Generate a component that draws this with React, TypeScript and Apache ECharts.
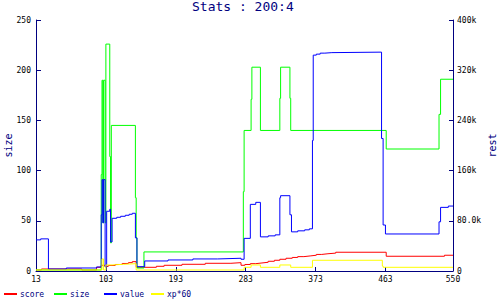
import React, { useEffect, useRef } from "react";
import * as echarts from "echarts";

// x ticks
const xTicks = [13, 103, 193, 283, 373, 463, 550];

// score (right axis, thousands)
const scoreX = [13, 20, 72, 91, 97, 102, 106, 115, 124, 132, 137, 142, 168, 178, 201, 231, 264, 277, 282, 289, 296, 304, 312, 320, 327, 335, 343, 350, 358, 366, 374, 381, 389, 399, 464, 539, 550];
const scoreY = [1.6, 3.2, 1.6, 5.9, 9.1, 7.2, 8.8, 10.4, 12, 13.3, 14.9, 5.9, 7.5, 9.1, 10.7, 12.3, 13.3, 9.1, 10.4, 11.7, 12.8, 13.9, 15.5, 17.1, 18.7, 20.3, 21.6, 22.9, 24, 25.1, 26.4, 27.5, 28.5, 29.9, 23.5, 25.1, 25.1];

// size (left axis)
const sizeX = [13, 97, 98, 99, 100, 102, 103, 108, 109, 110, 141, 142, 143, 152, 280, 281, 290, 291, 302, 327, 328, 340, 341, 464, 532, 534, 550];
const sizeY = [1, 96, 190, 48, 190, 48, 226, 114, 28, 145, 73, 33, 3, 19, 79, 140, 171, 203, 140, 172, 203, 172, 140, 121.5, 156, 191, 191];

// value (right axis, thousands)
const valueX = [13, 19, 29, 52, 91, 97, 98, 99, 100, 102, 104, 108, 109, 111, 117, 122, 128, 133, 137, 141, 143, 153, 183, 215, 247, 277, 281, 289, 296, 302, 312, 321, 327, 328, 340, 342, 350, 359, 365, 369, 370, 374, 379, 385, 394, 458, 460, 463, 532, 534, 544, 550];
const valueY = [49.6, 51.2, 3.2, 4.8, 6.4, 89.6, 145.6, 76.8, 145.6, 6.4, 95.2, 98.4, 46.4, 84, 85.6, 87.2, 88.8, 90.4, 92, 52.8, 6.9, 16, 17.6, 19.2, 20.3, 18.7, 52, 106.2, 109.4, 54.4, 56, 57.6, 116.8, 120, 89.6, 62.4, 64, 65.6, 67.2, 208, 344, 345.6, 347.2, 348, 348.8, 211.2, 73.3, 59, 78.4, 101.4, 103.5, 103.5];

// xp*60 (right axis, thousands)
const xpX = [13, 98, 100, 103, 111, 126, 142, 281, 290, 302, 327, 341, 369, 459, 460, 550];
const xpY = [1.6, 19.2, 1.6, 9.6, 10.7, 11.7, 1.6, 5.9, 9.6, 5.9, 9.6, 5.9, 17.1, 8, 5.9, 5.9];

const NAVY = "#000080";
const MONO = "DejaVu Sans Mono";

function pairs(xs: number[], ys: number[]) {
  return xs.map((x, i) => [x, ys[i]]);
}

export default function App() {
  const ref = useRef<HTMLDivElement>(null);
  useEffect(() => {
    document.body.style.margin = "0";
    const chart = echarts.init(ref.current!, null, { renderer: "svg" });
    const legendItem = (name: string, left: number) => ({
      data: [name],
      left,
      top: 290,
      padding: 0,
      itemWidth: 13,
      itemHeight: 2,
      itemGap: 0,
      icon: "rect",
      selectedMode: false,
      textStyle: { color: NAVY, fontFamily: MONO, fontSize: 8, padding: [0, 0, 0, -2] },
    });
    const mk = (name: string, color: string, data: number[][], yAxisIndex: number) => ({
      name,
      type: "line",
      step: "end",
      yAxisIndex,
      data,
      showSymbol: false,
      symbol: "none",
      color,
      lineStyle: { color, width: 1 },
      itemStyle: { color },
    });
    chart.setOption({
      animation: false,
      title: {
        text: "Stats : 200:4",
        left: 192,
        top: 0,
        padding: 0,
        textStyle: { color: NAVY, fontFamily: MONO, fontSize: 13, fontWeight: "normal" },
      },
      legend: [
        legendItem("score", 4),
        legendItem("size", 54),
        legendItem("value", 104),
        legendItem("xp*60", 151),
      ],
      grid: { left: 36, right: 47, top: 20, bottom: 29, containLabel: false, outerBoundsMode: "none" },
      xAxis: {
        type: "value",
        min: 13,
        max: 550,
        axisLine: { show: true, lineStyle: { color: NAVY, width: 1 } },
        axisTick: { show: true, inside: true, length: 4, customValues: xTicks, lineStyle: { color: NAVY } },
        axisLabel: {
          customValues: xTicks,
          color: "#000",
          fontFamily: MONO,
          fontSize: 8,
          margin: 4,
          showMinLabel: true,
          showMaxLabel: true,
        },
        splitLine: { show: false },
      },
      yAxis: [
        {
          type: "value",
          position: "left",
          min: 0,
          max: 250,
          interval: 50,
          name: "size",
          nameLocation: "middle",
          nameGap: 23,
          nameMoveOverlap: false,
          nameTextStyle: { color: NAVY, fontFamily: MONO, fontSize: 10 },
          axisLine: { show: true, lineStyle: { color: NAVY, width: 1 } },
          axisTick: { show: true, inside: true, length: 5, lineStyle: { color: NAVY } },
          axisLabel: { color: "#000", fontFamily: MONO, fontSize: 8, margin: 5 },
          splitLine: { show: false },
        },
        {
          type: "value",
          position: "right",
          min: 0,
          max: 400,
          interval: 80,
          name: "rest",
          nameLocation: "middle",
          nameGap: 34,
          nameMoveOverlap: false,
          nameTextStyle: { color: NAVY, fontFamily: MONO, fontSize: 10 },
          axisLine: { show: true, lineStyle: { color: NAVY, width: 1 } },
          axisTick: { show: true, inside: true, length: 4, lineStyle: { color: NAVY } },
          axisLabel: {
            color: "#000",
            fontFamily: MONO,
            fontSize: 8,
            margin: 4,
            formatter: (v: number) => (v === 0 ? "0" : v < 100 ? v.toFixed(1) + "k" : v + "k"),
          },
          splitLine: { show: false },
        },
      ],
      series: [
        mk("score", "#ff0000", pairs(scoreX, scoreY), 1),
        mk("size", "#00ff00", pairs(sizeX, sizeY), 0),
        mk("value", "#0000ff", pairs(valueX, valueY), 1),
        mk("xp*60", "#ffff00", pairs(xpX, xpY), 1),
      ],
    });
    return () => chart.dispose();
  }, []);
  return (
    <div
      ref={ref}
      style={{ position: "absolute", left: 0, top: 0, width: 500, height: 300 }}
    />
  );
}
